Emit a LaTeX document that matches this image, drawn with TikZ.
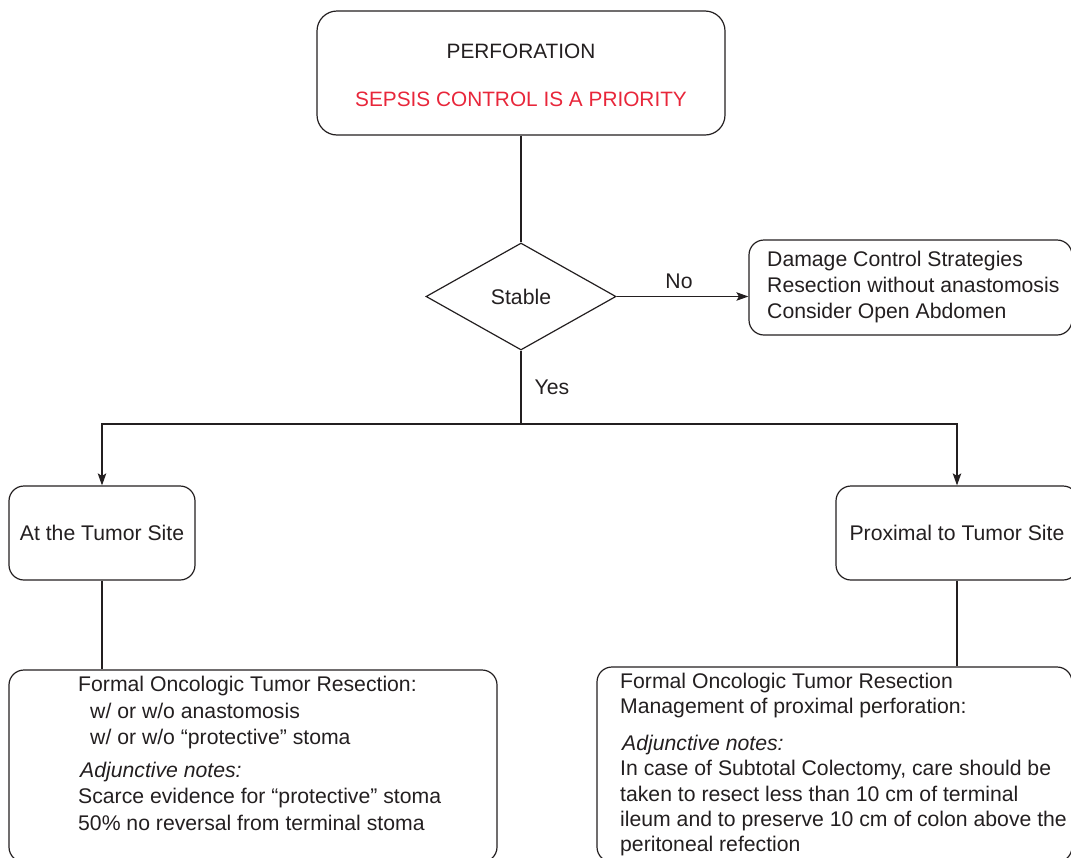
\documentclass[tikz,border=0pt]{standalone}
\usepackage{fontspec}
\setmainfont{Liberation Sans}
\usetikzlibrary{arrows.meta,shapes.geometric}
\definecolor{ink}{RGB}{35,31,32}
\definecolor{alert}{RGB}{232,38,58}
\begin{document}
\begin{tikzpicture}[x=1pt,y=-1pt,
  every node/.style={font=\fontsize{21.2}{26}\selectfont, text=ink},
  box/.style={draw=ink, line width=1.2pt, rounded corners=15pt, inner sep=0pt},
  txt/.style={inner sep=0pt, align=left},
  conn/.style={draw=ink, line width=1.2pt},
  arr/.style={conn, -{Stealth[length=12pt,width=8.5pt,inset=2.5pt]}},
  ]
\clip (0,0) rectangle (1071,857);
% top box
\node[box, rounded corners=20pt, minimum width=408pt, minimum height=124pt] (top) at (521,73) {};
\node[anchor=base, inner sep=0pt, font=\fontsize{20.8}{26}\selectfont] (perf) at (521,58.5) {PERFORATION};
\node[anchor=base, inner sep=0pt, text=alert, font=\fontsize{20.8}{26}\selectfont] (sepsis) at (521,106.5) {SEPSIS CONTROL IS A PRIORITY};
% decision
\node[diamond, draw=ink, line width=1.2pt, minimum width=190pt, minimum height=107pt, inner sep=0pt] (stable) at (521,296.5) {Stable};
% damage control box
\node[box, minimum width=323pt, minimum height=95pt] (dmg) at (910.5,287.5) {};
\node[txt, anchor=west] (dmgtxt) at (767,287) {Damage Control Strategies\\Resection without anastomosis\\Consider Open Abdomen};
% site boxes
\node[box, minimum width=186pt, minimum height=94pt] (atsite) at (102,533) {At the Tumor Site};
\node[box, minimum width=242pt, minimum height=94pt] (prox) at (957,533) {Proximal to Tumor Site};
% bottom boxes
\node[box, minimum width=488pt, minimum height=192pt] (bl) at (253,766) {};
\node[txt, anchor=north west, font=\fontsize{21.2}{26.5}\selectfont] (bltxt) at (78,676) {Formal Oncologic Tumor Resection:\\
\hspace*{12pt}w/ or w/o anastomosis\\
\hspace*{12pt}w/ or w/o “protective” stoma\\[6pt]
\hspace*{2pt}\textit{Adjunctive notes:}\\
Scarce evidence for “protective” stoma\\
50\% no reversal from terminal stoma};
\node[box, minimum width=475pt, minimum height=195pt] (br) at (834.5,764.5) {};
\node[txt, anchor=north west, font=\fontsize{21.2}{25.4}\selectfont] (brtxt) at (620,673) {Formal Oncologic Tumor Resection\\
Management of proximal perforation:\\[11pt]
\hspace*{2pt}\textit{Adjunctive notes:}\\
In case of Subtotal Colectomy, care should be\\
taken to resect less than 10 cm of terminal\\
ileum and to preserve 10 cm of colon above the\\
peritoneal refection};
% connectors
\coordinate (split) at (521,424);
\draw[conn] (top.south) -- (stable.north);
\draw[arr] (stable.east) -- (stable.east -| dmg.west);
\node (no) at (679,281) {No};
\draw[conn] (stable.south) -- (split);
\node (yes) at (552,387) {Yes};
\draw[arr] (split) -| (atsite.north);
\draw[arr] (split) -| (prox.north);
\draw[conn] (atsite.south) -- (atsite.south |- bl.north);
\draw[conn] (prox.south) -- (prox.south |- br.north);
\end{tikzpicture}
\end{document}
